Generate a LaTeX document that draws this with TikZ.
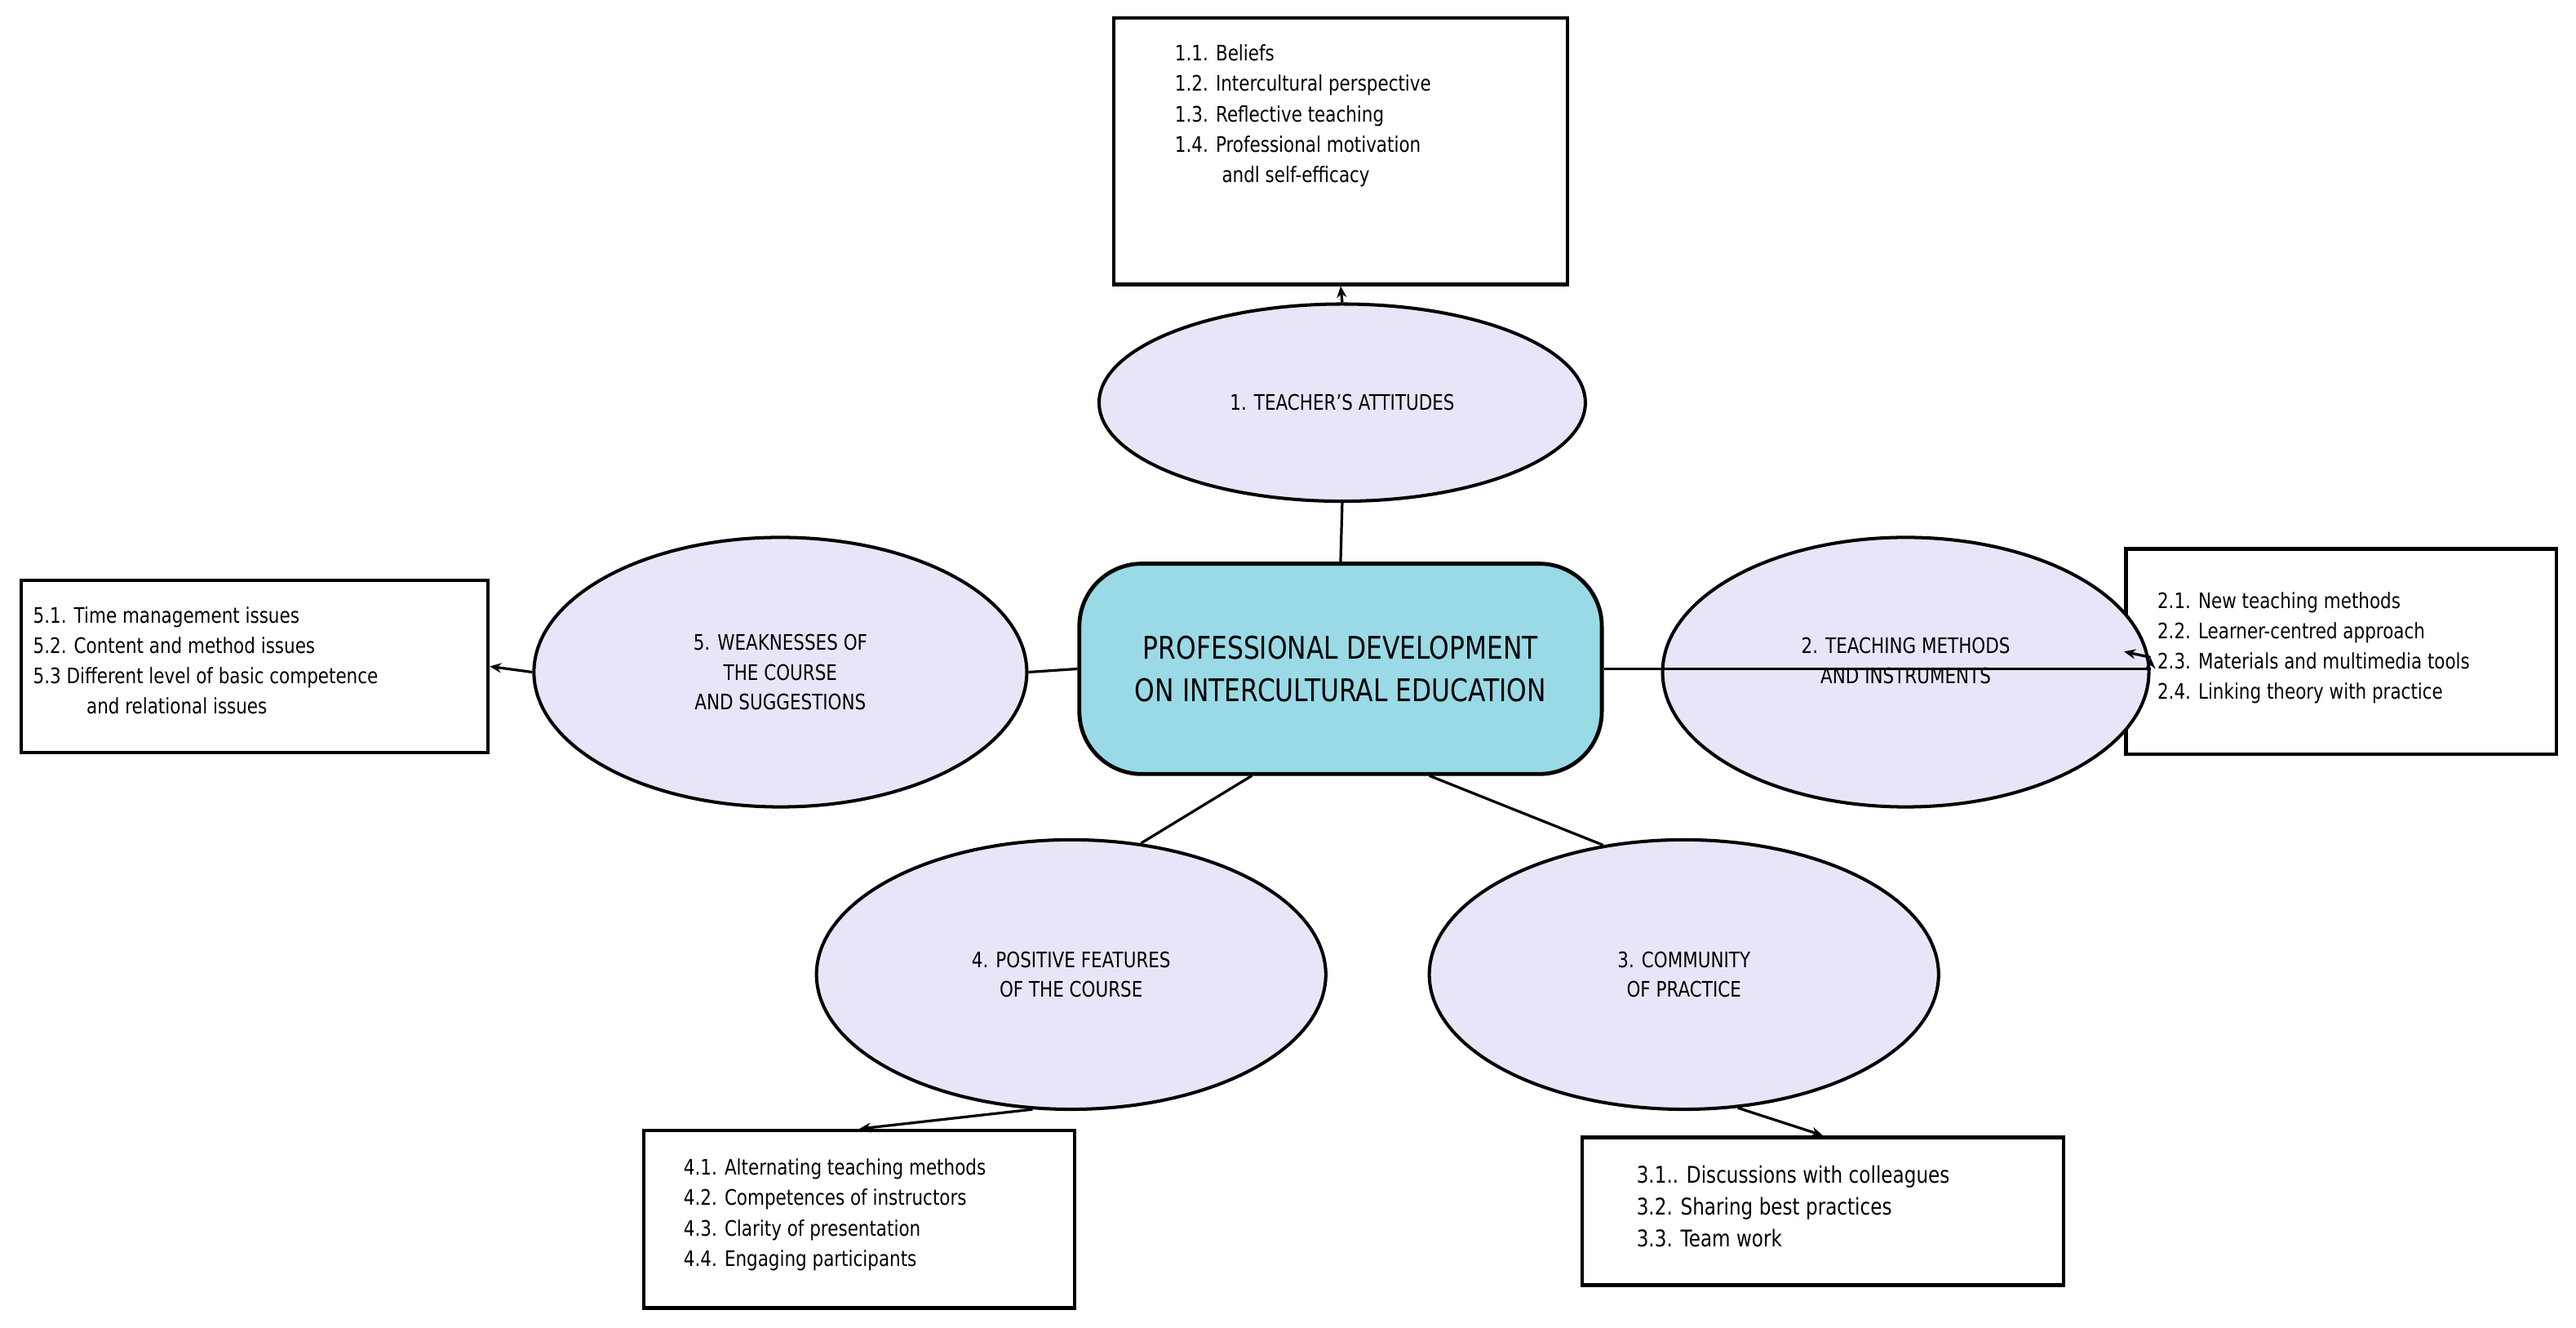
\documentclass[tikz,border=0pt]{standalone}
\usepackage{fontspec}
\setmainfont{DejaVu Sans}[FakeStretch=0.82]
\usetikzlibrary{shapes.geometric,arrows.meta}
\begin{document}
\begin{tikzpicture}[x=1pt,y=-1pt,
 ell/.style={draw,line width=2pt,fill=ellfill,ellipse,inner sep=0pt,font=\fontsize{13}{18}\selectfont,align=center},
 box/.style={draw,line width=2.2pt,fill=white,inner sep=0pt},
 lst/.style={font=\fontsize{13}{18.5}\selectfont,align=left,anchor=north west,inner sep=0pt},
 con/.style={line width=1.6pt},
 arr/.style={line width=1.6pt,-{Stealth[length=7pt,width=6pt]}}]
\definecolor{ellfill}{HTML}{E6E6F8}
\definecolor{cenfill}{HTML}{99DAE6}
\useasboundingbox (0,0) rectangle (1568,808);
\fill[white] (0,0) rectangle (1568,808);
% boxes
\node[box,minimum width=276,minimum height=162] (b1) at (816,92) {};
\node[box,minimum width=262,minimum height=125] (b2) at (1425,396.5) {};
\node[box,minimum width=284,minimum height=105] (b5) at (155,405.5) {};
\node[box,minimum width=262,minimum height=108] (b4) at (523,742) {};
\node[box,minimum width=293,minimum height=90] (b3) at (1109.5,737) {};
\node[lst] (t1) at (715,27) {1.1. Beliefs\\1.2. Intercultural perspective\\1.3. Reflective teaching\\1.4. Professional motivation\\\hspace*{2.2em}andl self-efficacy};
\node[lst] (t2) at (1313,360) {2.1. New teaching methods\\2.2. Learner-centred approach\\2.3. Materials and multimedia tools\\2.4. Linking theory with practice};
\node[lst] (t5) at (20,369) {5.1. Time management issues\\5.2. Content and method issues\\5.3 Different level of basic competence\\\hspace*{2.5em}and relational issues};
\node[lst] (t4) at (416,705) {4.1. Alternating teaching methods\\4.2. Competences of instructors\\4.3. Clarity of presentation\\4.4. Engaging participants};
\node[lst,font=\fontsize{14}{19.5}\selectfont] (t3) at (996,709) {3.1.. Discussions with colleagues\\3.2. Sharing best practices\\3.3. Team work};
% center
\node[draw,line width=2.4pt,fill=cenfill,rounded corners=38pt,minimum width=318,minimum height=128,font=\fontsize{19}{26}\selectfont,align=center] (c) at (816,407) {PROFESSIONAL DEVELOPMENT\\ON INTERCULTURAL EDUCATION};
% ellipses
\node[ell,minimum width=296,minimum height=120] (e1) at (817,245) {1. TEACHER'S ATTITUDES};
\node[ell,minimum width=296,minimum height=164] (e2) at (1160,409) {\raisebox{0pt}{2. TEACHING METHODS}\\AND INSTRUMENTS\\[-4pt]\mbox{}};
\node[ell,minimum width=300,minimum height=164] (e5) at (475,409) {5. WEAKNESSES OF\\THE COURSE\\AND SUGGESTIONS};
\node[ell,minimum width=310,minimum height=164] (e4) at (652,593) {4. POSITIVE FEATURES\\OF THE COURSE};
\node[ell,minimum width=310,minimum height=164] (e3) at (1025,593) {3. COMMUNITY\\OF PRACTICE};
% connectors
\draw[con] (e1.south) -- (c.north);
\draw[arr] (e1.north) -- (b1.south);
\draw[con] (c.west) -- (e5.east);
\draw[con] (c.east) -- (e2.east |- c.east) ;
\draw[arr] (e2.east) ++(0,-9) coordinate (e2a) ; 
\draw[arr] (e2a) -- (b2.west);
\draw[arr] (e5.west) -- (b5.east);
\coordinate (c4) at (762,472); \coordinate (c3) at (870,472);
\draw[con] (c4) -- (e4.62);
\draw[con] (c3) -- (e3.122);
\draw[arr] (e4.-106) -- (b4.north);
\draw[arr] (e3.-68) -- (b3.north);
\end{tikzpicture}
\end{document}
